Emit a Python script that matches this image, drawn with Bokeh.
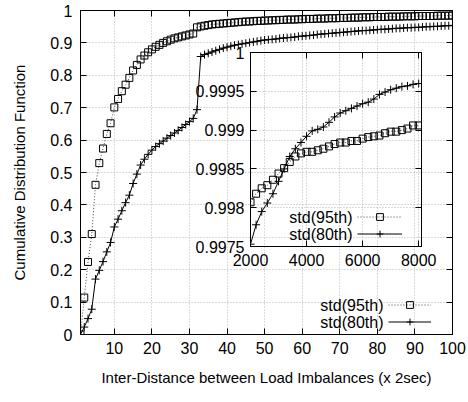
from bokeh.plotting import figure
from bokeh.models import Range1d, FixedTicker, LinearAxis, Legend, LegendItem, Label
from bokeh.embed import file_html
from bokeh.resources import INLINE

FONT = "Liberation Sans"
FS = "16px"
FS_TITLE = "15px"
GRID_COLOR = "#b4b4b4"

# ---------------- data ----------------
x_main = list(range(1, 101))
cdf_95 = [0.000, 0.114, 0.224, 0.310, 0.462, 0.529, 0.574, 0.619, 0.652, 0.701,
          0.727, 0.751, 0.771, 0.792, 0.815, 0.832, 0.849, 0.861, 0.871, 0.880,
          0.888, 0.894, 0.900, 0.905, 0.910, 0.914, 0.917, 0.920, 0.923, 0.926,
          0.929, 0.948, 0.951, 0.953, 0.955, 0.957, 0.958, 0.959, 0.960, 0.961,
          0.962, 0.963, 0.964, 0.965, 0.966, 0.966, 0.967, 0.968, 0.968, 0.969,
          0.969, 0.970, 0.970, 0.971, 0.971, 0.972, 0.972, 0.972, 0.973, 0.973,
          0.974, 0.974, 0.974, 0.975, 0.975, 0.975, 0.976, 0.976, 0.976, 0.977,
          0.977, 0.977, 0.978, 0.978, 0.978, 0.979, 0.979, 0.979, 0.980, 0.980,
          0.980, 0.980, 0.981, 0.981, 0.981, 0.981, 0.982, 0.982, 0.982, 0.982,
          0.983, 0.983, 0.983, 0.983, 0.983, 0.984, 0.984, 0.984, 0.984, 0.985]
cdf_80 = [0.000, 0.023, 0.049, 0.078, 0.171, 0.198, 0.225, 0.255, 0.284, 0.332,
          0.356, 0.382, 0.407, 0.430, 0.466, 0.495, 0.523, 0.541, 0.556, 0.569,
          0.580, 0.589, 0.597, 0.606, 0.614, 0.622, 0.630, 0.639, 0.648, 0.657,
          0.667, 0.694, 0.858, 0.864, 0.868, 0.872, 0.876, 0.880, 0.884, 0.887,
          0.890, 0.893, 0.895, 0.897, 0.899, 0.901, 0.903, 0.905, 0.907, 0.909,
          0.910, 0.911, 0.912, 0.914, 0.915, 0.916, 0.917, 0.918, 0.920, 0.921,
          0.922, 0.923, 0.924, 0.926, 0.927, 0.928, 0.929, 0.930, 0.931, 0.932,
          0.933, 0.934, 0.935, 0.936, 0.937, 0.938, 0.938, 0.939, 0.940, 0.941,
          0.942, 0.942, 0.943, 0.944, 0.945, 0.945, 0.946, 0.947, 0.947, 0.948,
          0.948, 0.949, 0.950, 0.950, 0.951, 0.951, 0.952, 0.953, 0.953, 0.954]

x_inset = [2000, 2200, 2400, 2600, 2800, 3000, 3200, 3400, 3600, 3800,
           4000, 4200, 4400, 4600, 4800, 5000, 5200, 5400, 5600, 5800,
           6000, 6200, 6400, 6600, 6800, 7000, 7200, 7400, 7600, 7800, 8000]
inset_95 = [0.99807, 0.99818, 0.99825, 0.99829, 0.99836, 0.99844, 0.99851, 0.99859,
            0.99866, 0.99870, 0.99872, 0.99872, 0.99874, 0.99876, 0.99879, 0.99882,
            0.99884, 0.99884, 0.99886, 0.99886, 0.99889, 0.99891, 0.99892, 0.99893,
            0.99896, 0.99898, 0.99898, 0.99900, 0.99902, 0.99906, 0.99906]
inset_80 = [0.99753, 0.99778, 0.99795, 0.99806, 0.99818, 0.99834, 0.99850, 0.99866,
            0.99876, 0.99884, 0.99892, 0.99899, 0.99901, 0.99904, 0.99910, 0.99917,
            0.99922, 0.99925, 0.99928, 0.99931, 0.99934, 0.99936, 0.99940, 0.99946,
            0.99949, 0.99952, 0.99954, 0.99956, 0.99957, 0.99959, 0.99960]

series_names = ["std(95th)", "std(80th)"]

main_x_ticks = [10, 20, 30, 40, 50, 60, 70, 80, 90, 100]
main_x_labels = ["10", "20", "30", "40", "50", "60", "70", "80", "90", "100"]
main_y_ticks = [0, 0.1, 0.2, 0.3, 0.4, 0.5, 0.6, 0.7, 0.8, 0.9, 1]
main_y_labels = ["0", "0.1", "0.2", "0.3", "0.4", "0.5", "0.6", "0.7", "0.8", "0.9", "1"]
inset_x_ticks = [2000, 4000, 6000, 8000]
inset_x_labels = ["2000", "4000", "6000", "8000"]
inset_y_ticks = [0.9975, 0.998, 0.9985, 0.999, 0.9995, 1]
inset_y_labels = ["0.9975", "0.998", "0.9985", "0.999", "0.9995", "1"]

x_title = "Inter-Distance between Load Imbalances (x 2sec)"
y_title = "Cumulative Distribution Function"


def style_axis(ax, ticks, labels, standoff, show_labels=True):
    ax.ticker = FixedTicker(ticks=ticks)
    if show_labels:
        ax.major_label_overrides = {t: l for t, l in zip(ticks, labels)}
    ax.major_tick_in = 6
    ax.major_tick_out = 0
    ax.minor_tick_line_color = None
    ax.axis_line_color = "black"
    ax.major_tick_line_color = "black"
    ax.major_label_text_font = FONT
    ax.major_label_text_color = "black"
    ax.major_label_standoff = standoff
    if show_labels:
        ax.major_label_text_font_size = FS
    else:
        ax.major_label_text_font_size = "0px"
        ax.major_label_text_color = None
        ax.major_label_standoff = 0


def mirror_axes(fig, xt, yt):
    top = LinearAxis()
    style_axis(top, xt, None, 0, show_labels=False)
    right = LinearAxis()
    style_axis(right, yt, None, 0, show_labels=False)
    fig.add_layout(top, "above")
    fig.add_layout(right, "right")


def style_grid(fig, xt, yt):
    fig.xgrid.ticker = FixedTicker(ticks=xt)
    fig.ygrid.ticker = FixedTicker(ticks=yt)
    for g in (fig.xgrid, fig.ygrid):
        g.grid_line_color = GRID_COLOR
        g.grid_line_dash = "1 2"
        g.grid_line_width = 1


def add_series(fig, xs, y95, y80, glyph_w, lx, ly):
    l95 = fig.line(xs, y95, line_color="#444444", line_dash="1 2", line_width=1)
    s95 = fig.scatter(xs, y95, marker="square", size=7, fill_color=None,
                      line_color="black", line_width=1)
    l80 = fig.line(xs, y80, line_color="black", line_width=1)
    s80 = fig.scatter(xs, y80, marker="cross", size=8, line_color="black", line_width=1)
    row_h = 17
    leg = Legend(items=[LegendItem(label="", renderers=[l95, s95]),
                        LegendItem(label="", renderers=[l80, s80])],
                 location=(lx, ly), glyph_width=glyph_w, glyph_height=row_h,
                 label_height=row_h, label_width=0, label_standoff=0,
                 spacing=0, padding=0, margin=0, border_line_color=None,
                 background_fill_alpha=0, label_text_font_size="1px")
    fig.add_layout(leg)
    for i, name in enumerate(series_names):
        fig.add_layout(Label(x=lx - 5, y=ly + row_h * (1.5 - i), x_units="screen",
                             y_units="screen", text=name, text_align="right",
                             text_baseline="middle", text_font=FONT,
                             text_font_size=FS, text_color="black"))


# ---------------- main plot ----------------
p = figure(width=468, height=402,
           x_range=Range1d(1, 100), y_range=Range1d(0, 1),
           min_border_left=80, min_border_right=16, min_border_top=10, min_border_bottom=68,
           output_backend="svg", toolbar_location=None)
p.outline_line_color = "black"
p.background_fill_color = None
p.border_fill_color = None
style_axis(p.xaxis[0], main_x_ticks, main_x_labels, 7)
style_axis(p.yaxis[0], main_y_ticks, main_y_labels, 8)
p.xaxis[0].axis_label = x_title
p.yaxis[0].axis_label = y_title
for ax, so in ((p.xaxis[0], 12), (p.yaxis[0], 19)):
    ax.axis_label_text_font = FONT
    ax.axis_label_text_font_size = FS_TITLE
    ax.axis_label_text_font_style = "normal"
    ax.axis_label_text_color = "black"
    ax.axis_label_standoff = so
style_grid(p, main_x_ticks, main_y_ticks[1:-1])
mirror_axes(p, main_x_ticks, main_y_ticks)
add_series(p, x_main, cdf_95, cdf_80, 43, 308, 4)

# ---------------- inset (separate root, full-size transparent overlay) ----------------
q = figure(width=468, height=402,
           x_range=Range1d(2000, 8100), y_range=Range1d(0.9975, 1.0),
           min_border_left=250, min_border_right=47, min_border_top=52, min_border_bottom=156,
           output_backend="svg", toolbar_location=None)
q.outline_line_color = "black"
q.background_fill_color = None
q.border_fill_color = None
style_axis(q.xaxis[0], inset_x_ticks, inset_x_labels, 7)
style_axis(q.yaxis[0], inset_y_ticks, inset_y_labels, 6)
style_grid(q, inset_x_ticks, inset_y_ticks[1:-1])
mirror_axes(q, inset_x_ticks, inset_y_ticks)
add_series(q, x_inset, inset_95, inset_80, 45, 107, 4)
q.margin = (-402, 0, 0, 0)

open("out.html", "w").write(file_html([p, q], INLINE))
